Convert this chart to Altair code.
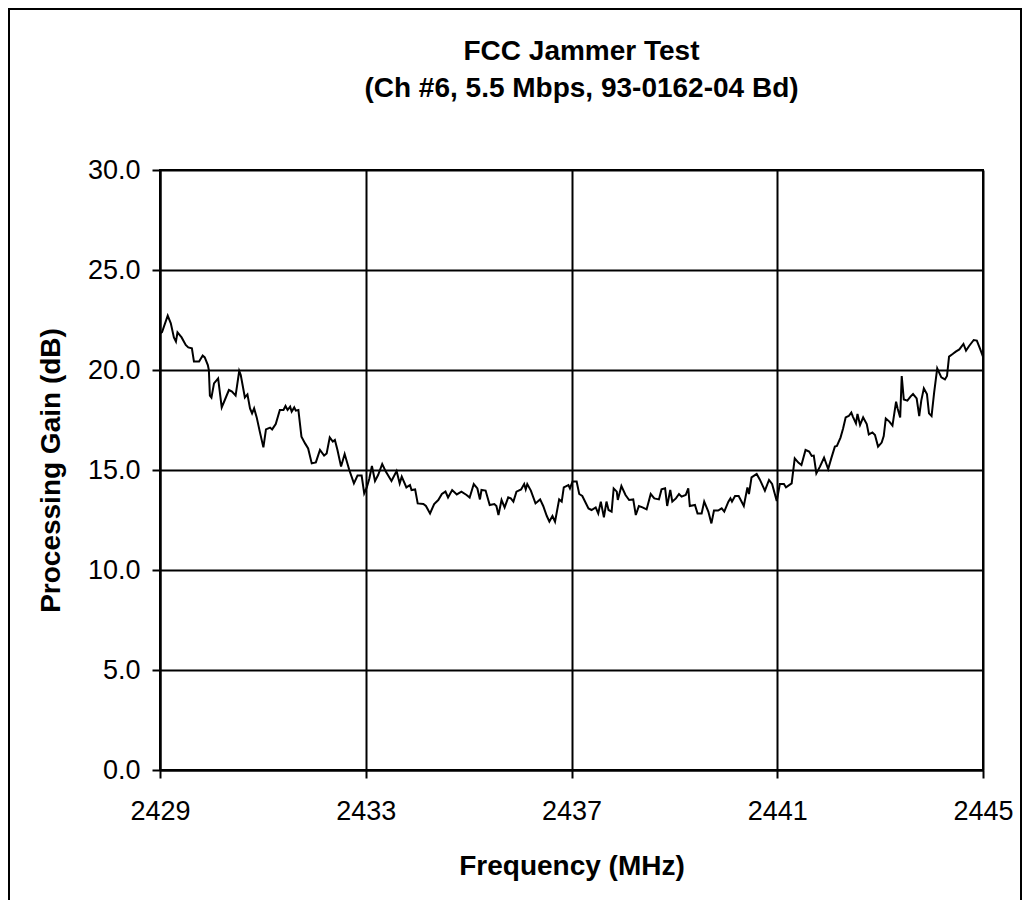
import altair as alt
import pandas as pd

# Frequency (MHz)
freq = [
    2429.00, 2429.04, 2429.15, 2429.21, 2429.27, 2429.31, 2429.34, 2429.42, 2429.50, 2429.55,
    2429.62, 2429.66, 2429.76, 2429.83, 2429.87, 2429.93, 2429.95, 2429.97, 2430.00, 2430.05,
    2430.13, 2430.20, 2430.26, 2430.34, 2430.40, 2430.47, 2430.54, 2430.57, 2430.65, 2430.70,
    2430.75, 2430.79, 2430.83, 2430.88, 2430.94, 2431.01, 2431.06, 2431.14, 2431.18, 2431.25,
    2431.33, 2431.40, 2431.44, 2431.48, 2431.53, 2431.56, 2431.61, 2431.64, 2431.69, 2431.75,
    2431.82, 2431.88, 2431.95, 2432.03, 2432.11, 2432.19, 2432.24, 2432.30, 2432.36, 2432.40,
    2432.45, 2432.52, 2432.59, 2432.68, 2432.77, 2432.84, 2432.92, 2432.97,
    2433.02, 2433.07, 2433.12, 2433.18, 2433.24, 2433.32, 2433.39, 2433.50, 2433.60, 2433.66,
    2433.70, 2433.79, 2433.86, 2433.89, 2433.96, 2434.01, 2434.12, 2434.17, 2434.25, 2434.33,
    2434.41, 2434.48, 2434.55, 2434.60, 2434.68, 2434.77, 2434.86, 2434.96, 2435.02, 2435.10,
    2435.17, 2435.22, 2435.25, 2435.33, 2435.41, 2435.50, 2435.54, 2435.58, 2435.64, 2435.70,
    2435.77, 2435.82, 2435.87, 2435.93, 2436.02, 2436.08, 2436.11, 2436.14, 2436.21, 2436.30,
    2436.39, 2436.45, 2436.52, 2436.57, 2436.63, 2436.68, 2436.76, 2436.81, 2436.85, 2436.94,
    2436.97,
    2437.02, 2437.10, 2437.15, 2437.21, 2437.33, 2437.39, 2437.47, 2437.52, 2437.57, 2437.63,
    2437.68, 2437.72, 2437.78, 2437.82, 2437.88, 2437.90, 2437.97, 2438.05, 2438.12, 2438.20,
    2438.25, 2438.31, 2438.38, 2438.46, 2438.54, 2438.61, 2438.70, 2438.75, 2438.82, 2438.86,
    2438.92, 2438.96, 2439.03, 2439.09, 2439.14, 2439.22, 2439.27, 2439.30, 2439.40, 2439.45,
    2439.53, 2439.58, 2439.66, 2439.72, 2439.77, 2439.85, 2439.92, 2439.97, 2440.05, 2440.09,
    2440.12, 2440.18, 2440.25, 2440.35, 2440.42, 2440.45, 2440.50, 2440.60, 2440.66, 2440.76,
    2440.84, 2440.90, 2440.99,
    2441.05, 2441.13, 2441.17, 2441.28, 2441.34, 2441.41, 2441.47, 2441.55, 2441.62, 2441.67,
    2441.71, 2441.76, 2441.83, 2441.91, 2441.99, 2442.05, 2442.12, 2442.16, 2442.23, 2442.28,
    2442.33, 2442.39, 2442.44, 2442.47, 2442.53, 2442.56, 2442.61, 2442.67, 2442.74, 2442.78,
    2442.85, 2442.90, 2442.96, 2443.03, 2443.07, 2443.11, 2443.18, 2443.24, 2443.31, 2443.34,
    2443.39, 2443.42, 2443.46, 2443.53, 2443.59, 2443.64, 2443.71, 2443.76, 2443.80, 2443.85,
    2443.91, 2443.95, 2444.00, 2444.05, 2444.11, 2444.19, 2444.26, 2444.30, 2444.34, 2444.41,
    2444.47, 2444.54, 2444.62, 2444.67, 2444.73, 2444.82, 2444.88, 2444.94, 2445.00,
]

# Processing gain (dB)
gain = [
    21.83, 21.90, 22.72, 22.33, 21.63, 21.42, 21.88, 21.63, 21.25, 21.13,
    21.08, 20.42, 20.42, 20.72, 20.63, 20.25, 20.00, 18.72, 18.62, 19.33,
    19.58, 18.13, 18.50, 19.00, 18.92, 18.72, 19.95, 19.75, 18.63, 18.78,
    18.08, 17.83, 18.08, 17.63, 16.92, 16.13, 17.03, 17.12, 17.03, 17.30,
    18.00, 18.00, 18.20, 18.00, 18.17, 17.92, 18.13, 17.97, 18.00, 16.67,
    16.33, 16.08, 15.33, 15.38, 16.00, 15.72, 15.83, 16.63, 16.42, 16.50,
    16.00, 15.17, 15.80, 15.00, 14.33, 14.72, 14.72, 13.83,
    14.13, 14.58, 15.20, 14.45, 14.75, 15.30, 14.92, 14.45, 14.95, 14.33,
    14.67, 14.13, 14.25, 14.00, 14.03, 13.33, 13.30, 13.20, 12.83, 13.30,
    13.50, 13.80, 13.92, 13.63, 14.00, 13.78, 13.92, 13.75, 13.62, 14.30,
    14.08, 13.53, 14.00, 13.97, 13.25, 13.30, 13.20, 12.75, 13.50, 13.13,
    13.63, 13.58, 13.42, 13.92, 14.03, 14.30, 14.03, 14.30, 13.97, 13.33,
    13.53, 13.20, 12.70, 12.42, 12.70, 12.42, 13.53, 13.42, 14.13, 14.25,
    14.08,
    14.42, 14.42, 13.80, 13.70, 13.08, 13.00, 13.13, 12.83, 13.42, 12.63,
    13.42, 13.00, 12.92, 14.08, 13.92, 13.50, 14.20, 13.75, 13.50, 13.53,
    12.75, 13.20, 13.13, 13.03, 13.80, 13.58, 13.53, 14.03, 14.08, 13.20,
    14.00, 13.42, 13.58, 13.80, 13.67, 13.75, 14.08, 13.20, 13.25, 12.83,
    12.83, 13.42, 12.92, 12.33, 12.97, 12.97, 13.08, 12.92, 13.42, 13.58,
    13.42, 13.70, 13.70, 13.20, 14.13, 13.80, 14.63, 14.80, 14.53, 13.97,
    14.50, 14.30, 13.45,
    14.30, 14.30, 14.13, 14.33, 15.58, 15.37, 15.25, 16.00, 15.92, 15.70,
    15.72, 14.83, 15.17, 15.62, 15.05, 15.58, 16.17, 16.20, 16.62, 17.08,
    17.63, 17.70, 17.87, 17.67, 17.33, 17.80, 17.25, 17.63, 17.30, 16.78,
    16.88, 16.75, 16.17, 16.37, 16.70, 17.58, 17.42, 17.22, 18.42, 18.08,
    17.63, 19.70, 18.53, 18.47, 18.67, 18.80, 18.58, 17.70, 18.47, 19.08,
    18.80, 17.83, 17.70, 18.87, 20.08, 19.63, 19.53, 19.70, 20.67, 20.80,
    20.92, 21.03, 21.30, 20.97, 21.20, 21.50, 21.47, 21.08, 20.67,
]

x_ticks = [2429, 2433, 2437, 2441, 2445]
y_ticks = [0, 5, 10, 15, 20, 25, 30]
title_lines = ["FCC Jammer Test", "(Ch #6, 5.5 Mbps, 93-0162-04 Bd)"]

FONT = "Liberation Sans, Arial, Helvetica, sans-serif"

df = pd.DataFrame({"freq": freq, "gain": gain})

line = alt.Chart(df).mark_line(color="black", strokeWidth=2).encode(
    x=alt.X(
        "freq:Q",
        scale=alt.Scale(domain=[2429, 2445], nice=False, zero=False),
        axis=alt.Axis(
            values=x_ticks, format="d", title="Frequency (MHz)",
            labelPadding=20, titlePadding=28, labelFlush=False,
        ),
    ),
    y=alt.Y(
        "gain:Q",
        scale=alt.Scale(domain=[0, 30], nice=False),
        axis=alt.Axis(
            values=y_ticks, format=".1f", title="Processing Gain (dB)",
            labelPadding=12, titlePadding=22, labelFlush=False,
        ),
    ),
)

frame = alt.Chart(pd.DataFrame({"k": [0]})).mark_rect(
    filled=False, stroke="black", strokeWidth=2
).encode(
    x=alt.value(-151), x2=alt.value(861),
    y=alt.value(-161), y2=alt.value(760),
)

chart = alt.layer(frame, line).properties(
    width=823,
    height=600,
    background="white",
    autosize=alt.AutoSizeParams(type="none"),
    padding={"left": 152, "top": 162, "right": 40, "bottom": 140},
    title=alt.TitleParams(
        text=title_lines, font=FONT, fontSize=28, fontWeight="bold",
        color="black", anchor="middle", dx=10, offset=-123, lineHeight=37,
        baseline="bottom",
    ),
).configure_view(
    stroke="black", strokeWidth=2
).configure_axis(
    domainColor="black", domainWidth=2,
    grid=True, gridColor="black", gridWidth=2, gridOpacity=1,
    tickColor="black", tickWidth=2, tickSize=8,
    labelFont=FONT, labelFontSize=27, labelColor="black",
    titleFont=FONT, titleFontSize=28, titleFontWeight="bold", titleColor="black",
)

chart.save("out.html", embed_options={"renderer": "svg", "actions": False})
